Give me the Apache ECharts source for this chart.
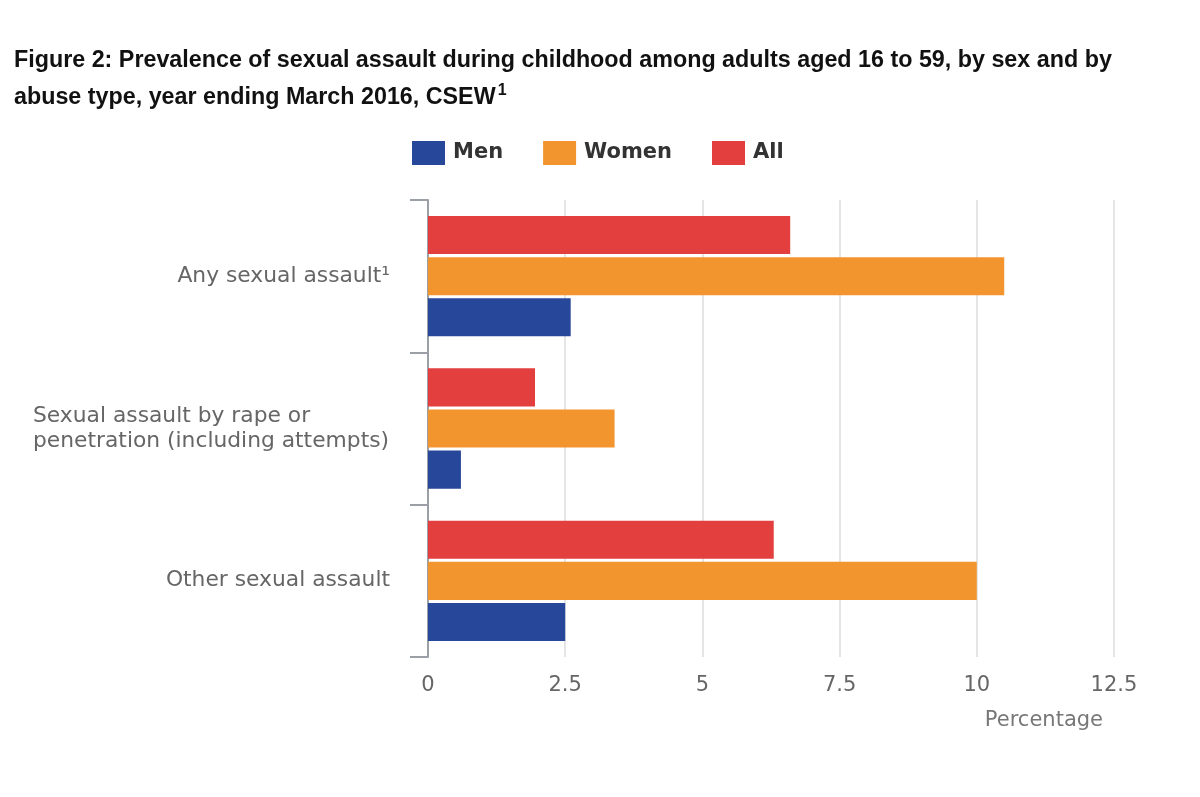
<!DOCTYPE html>
<html>
<head>
<meta charset="utf-8">
<script src="https://cdn.jsdelivr.net/npm/echarts@6/dist/echarts.min.js"></script>
<style>
html,body{margin:0;padding:0;background:#fff;}
#chart{width:1200px;height:797px;}
</style>
</head>
<body>
<div id="chart"></div>
<script>
var categories = ['Any sexual assault\u00B9', 'Sexual assault by rape or\npenetration (including attempts)', 'Other sexual assault'];
var men = [2.6, 0.6, 2.5];
var women = [10.5, 3.4, 10.0];
var all = [6.6, 1.95, 6.3];
var xTicks = [0, 2.5, 5, 7.5, 10, 12.5];

var labelFont = '21.8px "DejaVu Sans"';
var cv = document.createElement('canvas').getContext('2d');
cv.font = labelFont;
function maxLineWidth(s){
  return Math.max.apply(null, s.split('\n').map(function(l){ return Math.ceil(cv.measureText(l).width); }));
}
var multiWidth = maxLineWidth(categories[1]);

var chart = echarts.init(document.getElementById('chart'), null, {renderer:'canvas'});
var option = {
  backgroundColor: '#fff',
  animation: false,
  title: {
    left: 9, top: 37,
    text: '{t|Figure 2: Prevalence of sexual assault during childhood among adults aged 16 to 59, by sex and by}\n{t|abuse type, year ending March 2016, CSEW}{s|1}',
    textStyle: {
      rich: {
        t: {fontFamily: '"Liberation Sans", Arial, sans-serif', fontWeight: 'bold', fontSize: 23.3, color: '#111', lineHeight: 37},
        s: {fontFamily: '"Liberation Sans", Arial, sans-serif', fontWeight: 'bold', fontSize: 16, color: '#111', lineHeight: 37, padding: [0,0,14,2]}
      }
    }
  },
  legend: {
    data: ['Men', 'Women', 'All'],
    left: 407, top: 136,
    itemWidth: 33, itemHeight: 24, itemGap: 40,
    icon: 'rect',
    textStyle: {fontFamily: '"DejaVu Sans"', fontWeight: 'bold', fontSize: 21, color: '#333', padding: [0,0,0,3]}
  },
  grid: {left: 428, right: 86, top: 200, bottom: 140, containLabel: false},
  xAxis: {
    type: 'value', min: 0, max: 12.5, interval: 2.5,
    axisLine: {show: false}, axisTick: {show: false},
    splitLine: {lineStyle: {color: '#dcdcdc', width: 1.5}},
    axisLabel: {fontFamily: '"DejaVu Sans"', fontSize: 21, color: '#666', margin: 18,
      formatter: function(v){ return xTicks.indexOf(v) >= 0 ? String(v) : ''; }},
    name: 'Percentage', nameLocation: 'end', nameGap: -11,
    nameTextStyle: {fontFamily: '"DejaVu Sans"', fontSize: 21, color: '#777', align: 'right', verticalAlign: 'top', padding: [53,0,0,0]}
  },
  yAxis: {
    type: 'category', data: categories, inverse: true,
    axisLine: {show: true, lineStyle: {color: '#9aa0a6', width: 2}},
    axisTick: {show: true, length: 18, lineStyle: {color: '#9aa0a6', width: 2}},
    axisLabel: {
      margin: 38,
      formatter: function(v){
        var lines = v.split('\n');
        var st = lines.length > 1 ? 'b' : 'a';
        return lines.map(function(l){ return '{' + st + '|' + l + '}'; }).join('\n');
      },
      rich: {
        a: {fontFamily: '"DejaVu Sans"', fontSize: 21.8, color: '#666', lineHeight: 25},
        b: {fontFamily: '"DejaVu Sans"', fontSize: 21.8, color: '#666', lineHeight: 25, align: 'left', width: multiWidth}
      }
    }
  },
  series: [
    {name: 'All', type: 'bar', data: all, itemStyle: {color: '#E43F3F'}, barGap: '8%', barCategoryGap: '21%'},
    {name: 'Women', type: 'bar', data: women, itemStyle: {color: '#F2952E'}},
    {name: 'Men', type: 'bar', data: men, itemStyle: {color: '#27479A'}}
  ]
};
chart.setOption(option);
</script>
</body>
</html>
